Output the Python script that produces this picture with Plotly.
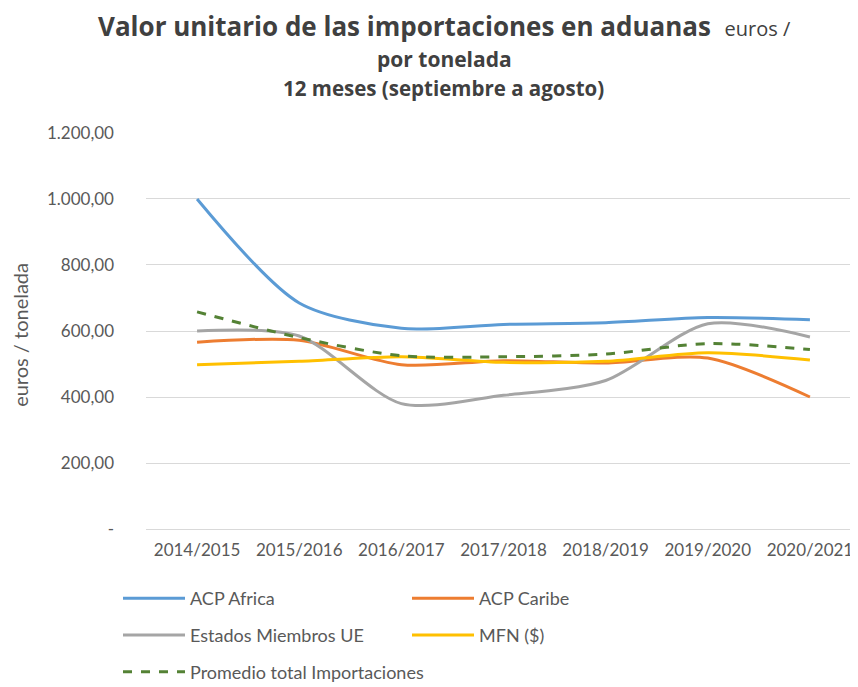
import plotly.graph_objects as go

categories = ["2014/2015", "2015/2016", "2016/2017", "2017/2018", "2018/2019", "2019/2020", "2020/2021"]
acp_africa = [1000, 685, 608, 620, 625, 641, 634]
acp_caribe = [566, 572, 498, 510, 503, 518, 400]
estados_ue = [600, 585, 380, 405, 450, 622, 582]
mfn = [498, 508, 522, 505, 508, 534, 512]
promedio = [658, 580, 525, 522, 530, 562, 544]

ytick_vals = [0, 200, 400, 600, 800, 1000, 1200]
ytick_text = ["-", "200,00", "400,00", "600,00", "800,00", "1.000,00", "1.200,00"]

FONT = "Lato"
TFONT = "Open Sans"
series = [
    ("ACP Africa", acp_africa, "#5B9BD5", "solid", "legend"),
    ("ACP Caribe", acp_caribe, "#ED7D31", "solid", "legend"),
    ("Estados Miembros UE", estados_ue, "#A5A5A5", "solid", "legend2"),
    ("MFN ($)", mfn, "#FFC000", "solid", "legend2"),
    ("Promedio total Importaciones", promedio, "#548235", "dash", "legend3"),
]

fig = go.Figure()
for name, vals, color, dash, lg in series:
    fig.add_trace(go.Scatter(
        x=categories, y=vals, name=name, mode="lines",
        line=dict(color=color, width=3, dash=dash, shape="spline", smoothing=0.8),
        legend=lg,
    ))

# figure-pixel helpers
T, B, L, R = 124, 152, 138, 5
W, H = 858, 687
PH = H - T - B
PW = W - L - R
def px(x):
    return (x - L) / PW
def py(y):
    return (H - B - y) / PH

leg_base = dict(orientation="h", xanchor="left", yanchor="middle",
                font=dict(family=FONT, size=18, color="#595959"),
                itemwidth=62, bgcolor="rgba(0,0,0,0)")
leg_cols = dict(entrywidth=212, entrywidthmode="pixels", **leg_base)

fig.update_layout(
    width=W, height=H,
    margin=dict(l=L, r=R, t=T, b=B),
    paper_bgcolor="white", plot_bgcolor="white",
    font=dict(family=FONT, color="#595959"),
    showlegend=True,
    legend=dict(x=px(110), y=py(607), **leg_cols),
    legend2=dict(x=px(110), y=py(645), **leg_cols),
    legend3=dict(x=px(110), y=py(683), **leg_base),
    xaxis=dict(type="category", range=[-0.5, 6.5], showgrid=False, showline=False,
               ticks="", ticklabelstandoff=9,
               tickfont=dict(family=FONT, size=17, color="#595959")),
    yaxis=dict(range=[0, 1203], tickvals=ytick_vals, ticktext=ytick_text,
               showgrid=True, gridcolor="#D9D9D9", gridwidth=1, zeroline=True,
               zerolinecolor="#D9D9D9", zerolinewidth=1, showline=False, ticks="",
               ticklabelstandoff=31,
               tickfont=dict(family=FONT, size=17, color="#595959")),
    annotations=[
        dict(text="<b>Valor unitario de las importaciones en aduanas</b>  <span style='font-size:20px'>euros /</span>",
             xref="paper", yref="paper", x=px(436), y=py(14),
             xanchor="center", yanchor="middle", showarrow=False,
             font=dict(family=TFONT, size=26, color="#404040")),
        dict(text="<b>por tonelada</b>",
             xref="paper", yref="paper", x=px(436), y=py(48),
             xanchor="center", yanchor="middle", showarrow=False,
             font=dict(family=TFONT, size=21, color="#404040")),
        dict(text="<b>12 meses (septiembre a agosto)</b>",
             xref="paper", yref="paper", x=px(435), y=py(78),
             xanchor="center", yanchor="middle", showarrow=False,
             font=dict(family=TFONT, size=20.5, color="#404040")),
        dict(text="euros / tonelada", textangle=-90,
             xref="paper", yref="paper", x=px(12), y=py(334),
             xanchor="center", yanchor="middle", showarrow=False,
             font=dict(family=FONT, size=20, color="#595959")),
    ],
)

fig.write_html("out.html")
